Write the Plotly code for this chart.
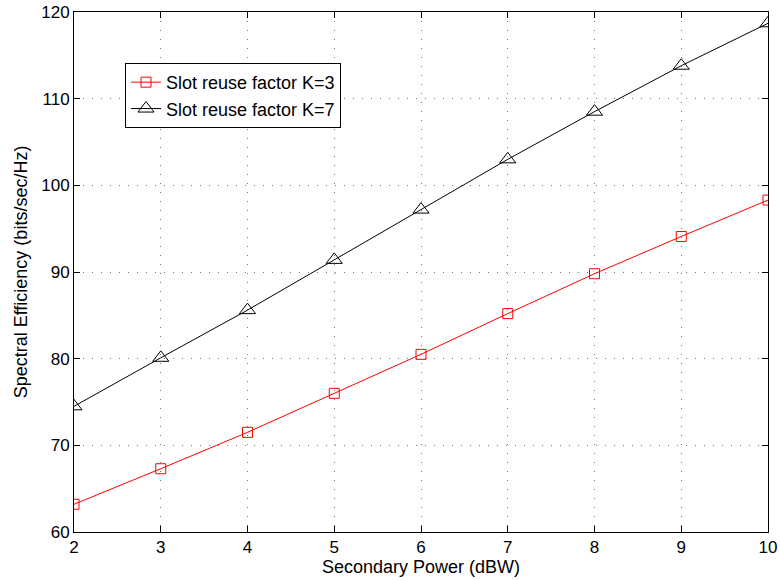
import plotly.graph_objects as go

power = [2, 3, 4, 5, 6, 7, 8, 9, 10]
k3 = [63.2, 67.3, 71.5, 76.0, 80.5, 85.2, 89.8, 94.1, 98.3]
k7 = [74.5, 80.1, 85.6, 91.4, 97.2, 103.0, 108.5, 113.8, 118.7]
x_ticks = [2, 3, 4, 5, 6, 7, 8, 9, 10]
y_ticks = [60, 70, 80, 90, 100, 110, 120]

FONT = "Liberation Sans, Arial, Helvetica, sans-serif"

fig = go.Figure()
fig.add_trace(go.Scatter(
    x=power, y=k3, mode="lines+markers", name="Slot reuse factor K=3",
    line=dict(color="#ff0000", width=1),
    marker=dict(symbol="square-open", size=10, color="#ff0000", line=dict(width=1)),
))
fig.add_trace(go.Scatter(
    x=power, y=k7, mode="lines+markers", name="Slot reuse factor K=7",
    line=dict(color="#000000", width=1),
    marker=dict(symbol="triangle-up-open", size=14, color="#000000", line=dict(width=1)),
))

axis_common = dict(
    showline=True, linecolor="black", linewidth=1, mirror="ticks",
    ticks="inside", ticklen=6, tickcolor="black",
    showgrid=True, gridcolor="#7a7a7a", griddash="1px,8px", gridwidth=1,
    zeroline=False, automargin=False,
    tickfont=dict(family=FONT, size=17, color="black"),
)

fig.update_xaxes(range=[2, 10], tickvals=x_ticks,
                 title=dict(text="Secondary Power (dBW)", font=dict(family=FONT, size=18, color="black"), standoff=2),
                 **axis_common)
fig.update_yaxes(range=[60, 120], tickvals=y_ticks,
                 title=dict(text="Spectral Efficiency (bits/sec/Hz)", font=dict(family=FONT, size=18, color="black"), standoff=8),
                 **axis_common)

fig.update_layout(
    width=780, height=580,
    margin=dict(l=74, r=12, t=12, b=48, pad=0, autoexpand=False),
    paper_bgcolor="white", plot_bgcolor="white",
    font=dict(family=FONT, size=17, color="black"),
    legend=dict(
        x=0.0735, y=0.902, xanchor="left", yanchor="top",
        bgcolor="white", bordercolor="black", borderwidth=1,
        font=dict(family=FONT, size=18, color="black"),
        tracegroupgap=0,
    ),
    showlegend=True,
)

fig.write_html("out.html")
